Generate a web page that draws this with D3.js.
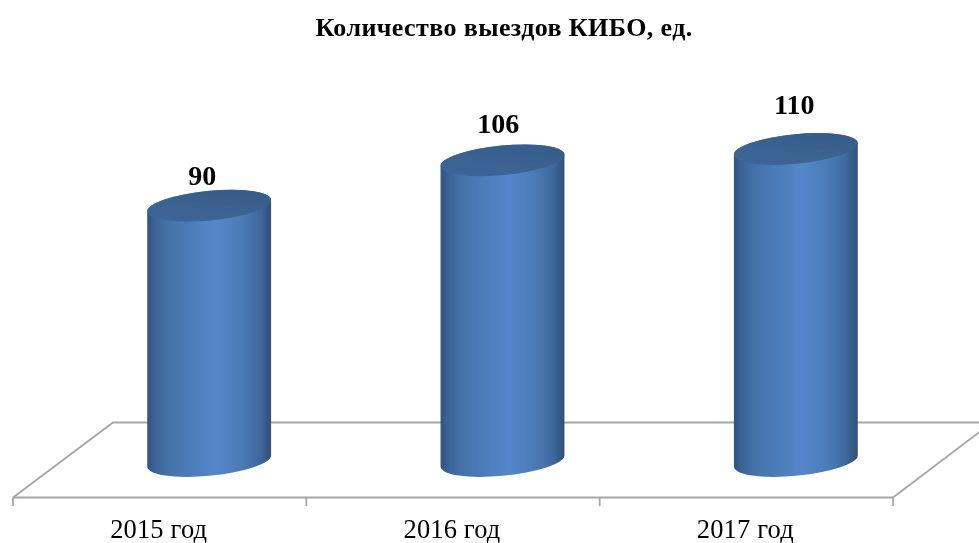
<!DOCTYPE html>
<html><head><meta charset="utf-8">
<script src="https://cdn.jsdelivr.net/npm/d3@7"></script>
<style>html,body{margin:0;padding:0;background:#fff}svg{display:block}text{font-family:"Liberation Serif",serif;fill:#000}</style>
</head><body><svg id="c" width="979" height="543"></svg>
<script>
const titleText = "Количество выездов КИБО, ед.";
const categories = ["2015 год","2016 год","2017 год"];
const values = [90,106,110];

const svg = d3.select("#c");
const defs = svg.append("defs");
const W=979,H=543;
const x = d3.scaleBand().domain(categories).range([13,893]);
const y = d3.scaleLinear().domain([0,110]).range([461,149]);
const depthX = 49.5;
const floorBack = 422.5, floorFront = 497.5;
const rightBackX = 992, leftBackX = 113;

const grad = defs.append("linearGradient").attr("id","body").attr("x1","0").attr("x2","1").attr("y1","0").attr("y2","0");
[[0,"#2f5280"],[0.06,"#3a6396"],[0.16,"#4471a9"],[0.34,"#4c7cb9"],[0.55,"#5487ca"],[0.75,"#4c7cb9"],[0.9,"#3f6b9f"],[1,"#2f4f76"]]
 .forEach(([o,c])=>grad.append("stop").attr("offset",o).attr("stop-color",c));
const tg = defs.append("linearGradient").attr("id","top").attr("x1","0").attr("x2","1").attr("y1","1").attr("y2","0");
[[0,"#3d6699"],[0.5,"#3a6291"],[1,"#365a85"]].forEach(([o,c])=>tg.append("stop").attr("offset",o).attr("stop-color",c));
defs.append("filter").attr("id","soft").attr("x","-5%").attr("y","-5%").attr("width","110%").attr("height","110%")
  .append("feGaussianBlur").attr("stdDeviation",0.6);
defs.append("filter").attr("id","softText").attr("x","-5%").attr("y","-10%").attr("width","110%").attr("height","120%")
  .append("feGaussianBlur").attr("stdDeviation",0.4);

// floor
const floor = svg.append("g").attr("fill","none").attr("stroke","#a6a6a6").attr("stroke-width",1.8).attr("filter","url(#soft)");
floor.append("path").attr("d",d3.line()([[13,floorFront],[leftBackX,floorBack],[W+2,floorBack]]));
floor.append("path").attr("d",d3.line()([[893,floorFront],[rightBackX,floorBack]]));
floor.append("path").attr("d",d3.line()([[13,floorFront],[893,floorFront]]));
const edges = [...categories.map(c=>x(c)), 893];
floor.selectAll("line.t").data(edges).join("line").attr("class","t")
  .attr("x1",d=>d).attr("x2",d=>d).attr("y1",floorFront).attr("y2",506);

// cylinders
const a=62.2,b=14.8,thetaDeg=-5.5,th=thetaDeg*Math.PI/180;
const dx=Math.sqrt(a*a*Math.cos(th)**2+b*b*Math.sin(th)**2);
const dy=(a*a-b*b)*Math.sin(-th)*Math.cos(th)/dx;
const bars = svg.append("g").attr("filter","url(#soft)").selectAll("g").data(values).join("g")
  .attr("transform",(d,i)=>`translate(${x(categories[i])+x.bandwidth()/2+depthX},0)`);
bars.append("path").attr("fill","url(#body)").attr("d",d=>{
  const t=y(d),z=y(0);
  return `M${-dx},${t+dy}L${-dx},${z+dy}A${a},${b} ${thetaDeg} 0 0 ${dx},${z-dy}L${dx},${t-dy}A${a},${b} ${thetaDeg} 0 0 ${-dx},${t+dy}Z`;
});
bars.append("ellipse").attr("rx",a).attr("ry",b).attr("fill","url(#top)")
  .attr("transform",d=>`translate(0,${y(d)}) rotate(${thetaDeg})`);

// value labels
const labelGap = [21,27.5,35];
const txt = svg.append("g").attr("filter","url(#softText)");
txt.selectAll("text.v").data(values).join("text").attr("class","v")
  .attr("x",(d,i)=>x(categories[i])+x.bandwidth()/2+depthX-7+2.75*i)
  .attr("y",(d,i)=>y(d)-labelGap[i]).attr("text-anchor","middle")
  .attr("font-size",28).attr("font-weight","bold").text(d=>d);

// category labels
txt.selectAll("text.c").data(categories).join("text").attr("class","c")
  .attr("x",d=>x(d)+x.bandwidth()/2-1).attr("y",537.5).attr("text-anchor","middle")
  .attr("font-size",26.5).attr("letter-spacing",0.15).text(d=>d);

txt.append("text").attr("x",504).attr("y",36).attr("text-anchor","middle")
  .attr("font-size",26).attr("letter-spacing",0.4).attr("font-weight","bold").text(titleText);
</script></body></html>
